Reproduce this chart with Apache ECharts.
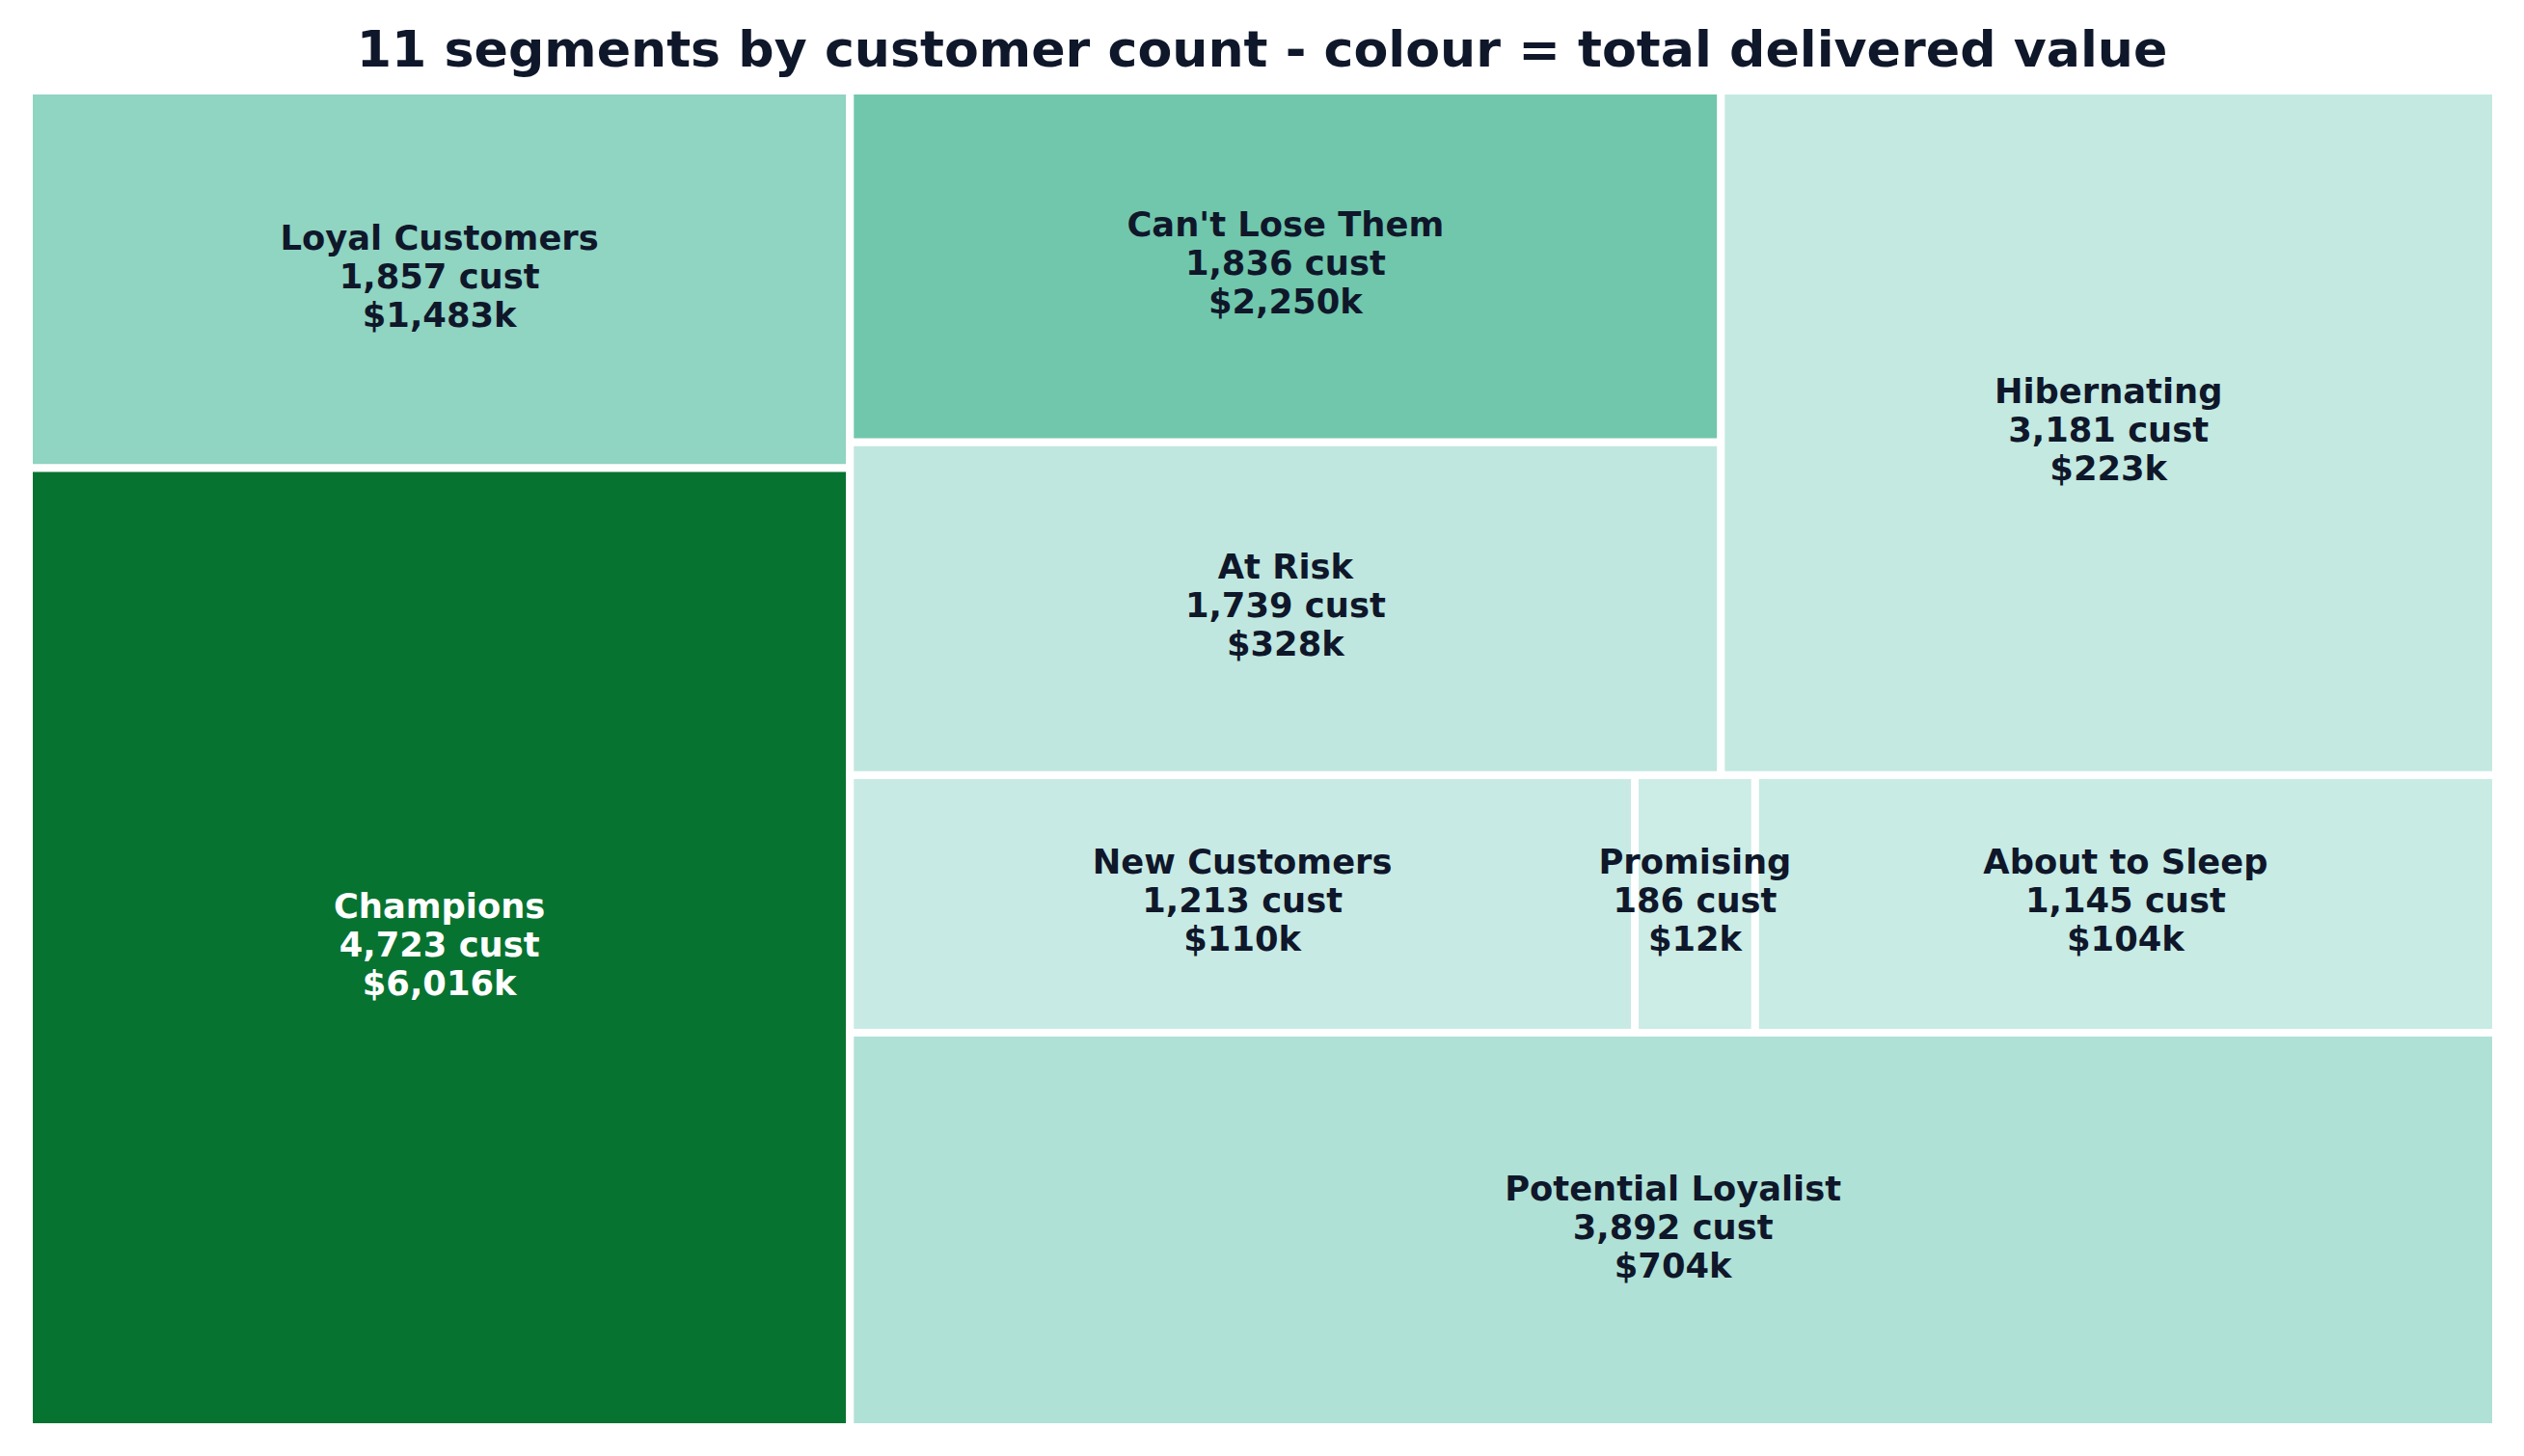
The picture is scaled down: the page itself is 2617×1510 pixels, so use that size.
<!DOCTYPE html>
<html>
<head>
<meta charset="utf-8">
<script src="https://cdn.jsdelivr.net/npm/echarts@6/dist/echarts.min.js"></script>
<style>
html,body{margin:0;padding:0;background:#ffffff;}
#chart{width:2617px;height:1510px;}
</style>
</head>
<body>
<div id="chart"></div>
<script>
// ---- data ----
const segments = ['Champions', 'Loyal Customers', 'Potential Loyalist', 'New Customers', 'Promising', 'About to Sleep', 'At Risk', "Can't Lose Them", 'Hibernating'];
const customers = [4723, 1857, 3892, 1213, 186, 1145, 1739, 1836, 3181];
const valueK = [6016, 1483, 704, 110, 12, 104, 328, 2250, 223];
const titleText = '11 segments by customer count - colour = total delivered value';

// ---- BuGn colormap (truncated 0.25 .. 0.85) ----
const bugnStops = ['#f7fcfd', '#e5f5f9', '#ccece6', '#99d8c9', '#66c2a4', '#41ae76', '#238b45', '#006d2c', '#00441b'];
function hexToRgb(h) {
  return [parseInt(h.slice(1, 3), 16), parseInt(h.slice(3, 5), 16), parseInt(h.slice(5, 7), 16)];
}
function bugn(t) {
  t = Math.max(0, Math.min(1, t));
  const n = bugnStops.length - 1;
  const p = t * n;
  const i = Math.min(Math.floor(p), n - 1);
  const f = p - i;
  const a = hexToRgb(bugnStops[i]), b = hexToRgb(bugnStops[i + 1]);
  const c = a.map((v, k) => Math.round(v + (b[k] - v) * f));
  return 'rgb(' + c.join(',') + ')';
}
const vMin = Math.min.apply(null, valueK), vMax = Math.max.apply(null, valueK);
function normVal(v) { return (v - vMin) / (vMax - vMin); }

// ---- squarify (same algorithm as python squarify) ----
function layoutRow(sizes, x, y, dx, dy) {
  const covered = sizes.reduce((s, v) => s + v, 0);
  const width = covered / dy;
  const rects = [];
  for (const s of sizes) { rects.push({ x: x, y: y, dx: width, dy: s / width }); y += s / width; }
  return rects;
}
function layoutCol(sizes, x, y, dx, dy) {
  const covered = sizes.reduce((s, v) => s + v, 0);
  const height = covered / dx;
  const rects = [];
  for (const s of sizes) { rects.push({ x: x, y: y, dx: s / height, dy: height }); x += s / height; }
  return rects;
}
function layout(sizes, x, y, dx, dy) {
  return dx >= dy ? layoutRow(sizes, x, y, dx, dy) : layoutCol(sizes, x, y, dx, dy);
}
function leftover(sizes, x, y, dx, dy) {
  const covered = sizes.reduce((s, v) => s + v, 0);
  if (dx >= dy) { const w = covered / dy; return [x + w, y, dx - w, dy]; }
  const h = covered / dx; return [x, y + h, dx, dy - h];
}
function worstRatio(sizes, x, y, dx, dy) {
  return Math.max.apply(null, layout(sizes, x, y, dx, dy).map(r => Math.max(r.dx / r.dy, r.dy / r.dx)));
}
function squarify(sizes, x, y, dx, dy) {
  if (sizes.length === 0) return [];
  if (sizes.length === 1) return layout(sizes, x, y, dx, dy);
  let i = 1;
  while (i < sizes.length && worstRatio(sizes.slice(0, i), x, y, dx, dy) >= worstRatio(sizes.slice(0, i + 1), x, y, dx, dy)) i++;
  const current = sizes.slice(0, i), remaining = sizes.slice(i);
  const lo = leftover(current, x, y, dx, dy);
  return layout(current, x, y, dx, dy).concat(squarify(remaining, lo[0], lo[1], lo[2], lo[3]));
}
const NORM = 100;
const total = customers.reduce((s, v) => s + v, 0);
const normSizes = customers.map(v => v * NORM * NORM / total);
const rects = squarify(normSizes, 0, 0, NORM, NORM);
const cellData = rects.map((r, i) => [r.x, r.y, r.dx, r.dy, i]);

function fmt(n) { return n.toLocaleString('en-US'); }

const chart = echarts.init(document.getElementById('chart'), null, { renderer: 'svg' });
chart.setOption({
  animation: false,
  backgroundColor: '#ffffff',
  title: {
    text: titleText,
    left: 'center',
    top: 20,
    textStyle: { fontFamily: 'DejaVu Sans', fontWeight: 'bold', fontSize: 52.2, color: '#0f172a' }
  },
  grid: { left: 30, right: 29, top: 94, bottom: 30 },
  xAxis: { type: 'value', min: 0, max: NORM, show: false },
  yAxis: { type: 'value', min: 0, max: NORM, show: false },
  series: [{
    type: 'custom',
    coordinateSystem: 'cartesian2d',
    data: cellData,
    encode: { x: 0, y: 1 },
    clip: false,
    renderItem: function (params, api) {
      const x = api.value(0), y = api.value(1), dx = api.value(2), dy = api.value(3), i = api.value(4);
      const p0 = api.coord([x, y + dy]);
      const p1 = api.coord([x + dx, y]);
      const tn = normVal(valueK[i]);
      const fill = bugn(0.25 + 0.6 * tn);
      const txtColor = tn > 0.6 ? '#ffffff' : '#0f172a';
      return {
        type: 'group',
        children: [{
          type: 'rect',
          shape: { x: p0[0], y: p0[1], width: p1[0] - p0[0], height: p1[1] - p0[1] },
          style: { fill: fill, stroke: '#ffffff', lineWidth: 8 }
        }, {
          type: 'text',
          z2: 10,
          style: {
            x: (p0[0] + p1[0]) / 2,
            y: (p0[1] + p1[1]) / 2 - 3.5,
            text: segments[i] + '\n' + fmt(customers[i]) + ' cust\n$' + fmt(valueK[i]) + 'k',
            align: 'center',
            verticalAlign: 'middle',
            fontFamily: 'DejaVu Sans',
            fontWeight: 'bold',
            fontSize: 35.3,
            lineHeight: 40,
            fill: txtColor
          }
        }]
      };
    }
  }]
});
</script>
</body>
</html>
